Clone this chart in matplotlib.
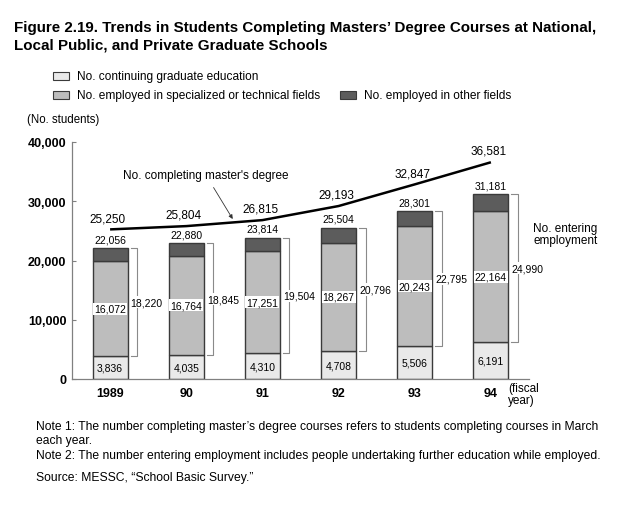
import matplotlib
matplotlib.use('Agg')
import matplotlib.pyplot as plt
from matplotlib.patches import Rectangle
import numpy as np

# data
years = ['1989', '90', '91', '92', '93', '94']
continuing = [3836, 4035, 4310, 4708, 5506, 6191]
specialized = [16072, 16764, 17251, 18267, 20243, 22164]
bar_totals = [22056, 22880, 23814, 25504, 28301, 31181]
entering_employment = [18220, 18845, 19504, 20796, 22795, 24990]
completing = [25250, 25804, 26815, 29193, 32847, 36581]

legend_labels = ['No. continuing graduate education',
                 'No. employed in specialized or technical fields',
                 'No. employed in other fields']

C_LIGHT = '#e9e9e9'
C_MID = '#bdbdbd'
C_DARK = '#5c5c5c'
C_EDGE = '#3a3a3a'
C_AXIS = '#808080'

plt.rcParams['font.family'] = ['Liberation Sans', 'DejaVu Sans']

W, H = 624, 510
fig = plt.figure(figsize=(W / 100, H / 100), dpi=100)
fig.patch.set_facecolor('white')


def px(x, y):
    """pixel position (top-left origin) -> figure fraction"""
    return x / W, 1 - y / H


ax = fig.add_axes([72 / W, 1 - 380 / H, (529 - 72) / W, (380 - 143) / H])

x = np.arange(len(years))
cont = np.array(continuing)
spec = np.array(specialized)
other = np.array(bar_totals) - cont - spec
bw = 0.46

# === stacked bars ===
ax.bar(x, cont, bw, color=C_LIGHT, edgecolor=C_EDGE, linewidth=1.0, zorder=2)
ax.bar(x, spec, bw, bottom=cont, color=C_MID, edgecolor=C_EDGE, linewidth=1.0, zorder=2)
ax.bar(x, other, bw, bottom=cont + spec, color=C_DARK, edgecolor=C_EDGE, linewidth=1.0, zorder=2)

# segment + total labels
for i in range(len(years)):
    ax.text(x[i], cont[i] / 2, f'{continuing[i]:,}', ha='center', va='center',
            fontsize=7.5, zorder=4)
    ax.text(x[i], cont[i] + spec[i] / 2, f'{specialized[i]:,}', ha='center', va='center',
            fontsize=7.5, zorder=4,
            bbox=dict(boxstyle='square,pad=0.1', facecolor='white', edgecolor='none'))
    ax.text(x[i], bar_totals[i] + 700, f'{bar_totals[i]:,}', ha='center', va='bottom',
            fontsize=7.5, zorder=4)

    # bracket for "No. entering employment"
    bx = x[i] + 0.355
    ax.plot([x[i] + 0.27, bx, bx, x[i] + 0.27],
            [cont[i], cont[i], bar_totals[i], bar_totals[i]],
            color='#8a8a8a', lw=0.8, zorder=2, clip_on=False)
    ax.text(x[i] + 0.27, (cont[i] + bar_totals[i]) / 2, f'{entering_employment[i]:,}',
            ha='left', va='center', fontsize=7.5, zorder=4,
            bbox=dict(boxstyle='square,pad=0.1', facecolor='white', edgecolor='none'))

# === completing line ===
ax.plot(x, completing, color='black', lw=1.8, zorder=3, solid_capstyle='butt')
for i in range(len(years)):
    ax.text(x[i] - 0.03, completing[i] + 900, f'{completing[i]:,}', ha='center',
            va='bottom', fontsize=8.5, zorder=4)

ax.annotate("No. completing master's degree", xy=(1.61, 27000), xytext=(1.26, 34400),
            ha='center', va='center', fontsize=8.5,
            arrowprops=dict(arrowstyle='-|>', lw=0.6, color='#333333',
                            mutation_scale=6, shrinkA=3, shrinkB=0))

# === axes styling ===
ax.set_xlim(-0.5, 5.5)
ax.set_ylim(0, 40000)
ax.set_yticks([0, 10000, 20000, 30000, 40000])
ax.set_yticklabels(['0', '10,000', '20,000', '30,000', '40,000'],
                   fontsize=9, fontweight='bold')
ax.set_xticks(x)
ax.set_xticklabels(years, fontsize=9, fontweight='bold')
ax.tick_params(axis='y', direction='in', length=3, width=0.8, color=C_AXIS, pad=4)
ax.tick_params(axis='x', length=0, pad=6)
for s in ['top', 'right']:
    ax.spines[s].set_visible(False)
for s in ['left', 'bottom']:
    ax.spines[s].set_color(C_AXIS)
    ax.spines[s].set_linewidth(0.9)

# === figure texts ===
fig.text(*px(14, 28), 'Figure 2.19. Trends in Students Completing Masters\u2019 Degree Courses at National,',
         fontsize=10.9, fontweight='bold', va='center', ha='left')
fig.text(*px(14, 46), 'Local Public, and Private Graduate Schools',
         fontsize=10.9, fontweight='bold', va='center', ha='left')

# legend drawn by hand (two uneven rows)
legend_pos = [(53, 77), (53, 96), (340, 96)]
for (lx, ly), lab, col in zip(legend_pos, legend_labels, [C_LIGHT, C_MID, C_DARK]):
    fx, fy = px(lx, ly + 4)
    fig.add_artist(Rectangle((fx, fy), 16 / W, 8 / H, transform=fig.transFigure,
                             facecolor=col, edgecolor=C_EDGE, linewidth=0.8))
    fig.text(*px(lx + 24, ly), lab, fontsize=8.6, va='center', ha='left')

fig.text(*px(27, 120), '(No. students)', fontsize=8.3, va='center', ha='left')
fig.text(*px(533, 235), 'No. entering\nemployment', fontsize=8.5, va='center', ha='left',
         linespacing=1.1)
fig.text(*px(508, 395), '(fiscal\nyear)', fontsize=8.5, va='center', ha='left',
         linespacing=0.95)

note_fs = 8.7
fig.text(*px(36, 427), 'Note 1: The number completing master\u2019s degree courses refers to students completing courses in March',
         fontsize=note_fs, va='center', ha='left')
fig.text(*px(36, 441), 'each year.', fontsize=note_fs, va='center', ha='left')
fig.text(*px(36, 456), 'Note 2: The number entering employment includes people undertaking further education while employed.',
         fontsize=note_fs, va='center', ha='left')
fig.text(*px(36, 478), 'Source: MESSC, \u201cSchool Basic Survey.\u201d',
         fontsize=note_fs, va='center', ha='left')

fig.savefig('out.png', dpi=100)
